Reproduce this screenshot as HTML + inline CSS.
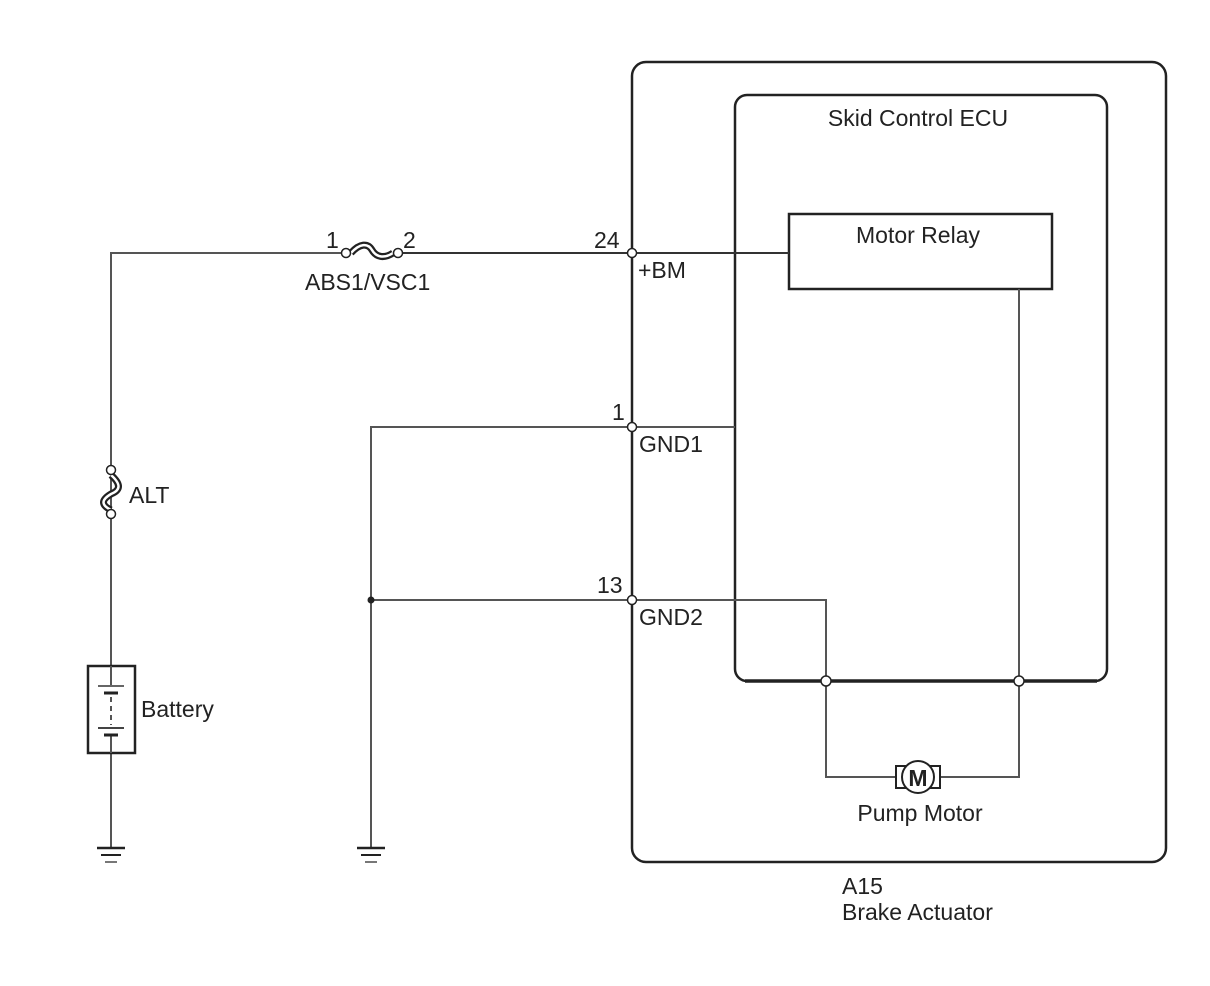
<!DOCTYPE html>
<html><head><meta charset="utf-8"><style>
html,body{margin:0;padding:0;background:#fff;}
svg{display:block;}
text{font-family:"Liberation Sans",sans-serif;font-size:23px;fill:#222;}
</style></head><body>
<svg width="1210" height="986" viewBox="0 0 1210 986" xmlns="http://www.w3.org/2000/svg">
<g fill="none" stroke="#333">
<rect x="632" y="62" width="534" height="800" rx="14" stroke-width="2.5" stroke="#222"/>
<rect x="735" y="95" width="372" height="586" rx="12" stroke-width="2.5" stroke="#222"/>
<line x1="745" y1="681" x2="1097" y2="681" stroke-width="3.5" stroke="#222"/>
<rect x="789" y="214" width="263" height="75" stroke-width="2.5" stroke="#222"/>
<polyline points="111,848 111,253 346,253" stroke-width="2" stroke="#555"/>
<line x1="398" y1="253" x2="789" y2="253" stroke-width="2" stroke="#333"/>
<path d="M351,253 C360,243 368,243 372,250 C376,257 384,259 393,253" stroke-width="7" stroke="#222"/>
<path d="M351,253 C360,243 368,243 372,250 C376,257 384,259 393,253" stroke-width="2.5" stroke="#fff"/>
<path d="M111,475 C121,484 121,490 111,494 C101,500 101,505 111,510" stroke-width="7" stroke="#222"/>
<path d="M111,475 C121,484 121,490 111,494 C101,500 101,505 111,510" stroke-width="2.5" stroke="#fff"/>
<rect x="88" y="666" width="47" height="87" stroke-width="2.5" stroke="#222" fill="#fff"/>
<line x1="111" y1="666" x2="111" y2="686" stroke-width="2" stroke="#555"/>
<line x1="111" y1="734" x2="111" y2="753" stroke-width="2" stroke="#555"/>
<line x1="98" y1="686" x2="124" y2="686" stroke-width="2" stroke="#666"/>
<line x1="104" y1="693" x2="118" y2="693" stroke-width="3" stroke="#222"/>
<line x1="111" y1="697" x2="111" y2="725" stroke-width="2" stroke="#555" stroke-dasharray="5,4"/>
<line x1="98" y1="728" x2="124" y2="728" stroke-width="2" stroke="#444"/>
<line x1="104" y1="735" x2="118" y2="735" stroke-width="3" stroke="#222"/>
<polyline points="735,427 371,427 371,848" stroke-width="2" stroke="#555"/>
<polyline points="371,600 826,600 826,777 900,777" stroke-width="2" stroke="#555"/>
<polyline points="1019,289 1019,777 937,777" stroke-width="2" stroke="#555"/>
<g stroke="#222">
<line x1="97" y1="848" x2="125" y2="848" stroke-width="2.5"/>
<line x1="101" y1="855" x2="121" y2="855" stroke-width="2"/>
<line x1="105" y1="862" x2="117" y2="862" stroke-width="2" stroke="#777"/>
<line x1="357" y1="848" x2="385" y2="848" stroke-width="2.5"/>
<line x1="361" y1="855" x2="381" y2="855" stroke-width="2"/>
<line x1="365" y1="862" x2="377" y2="862" stroke-width="2" stroke="#777"/>
</g>
<rect x="896" y="766" width="44" height="22" stroke-width="2" stroke="#222" fill="#fff"/>
<circle cx="918" cy="777" r="16" stroke-width="2" stroke="#222" fill="#fff"/>
<g stroke="#222" stroke-width="1.5" fill="#fff">
<circle cx="346" cy="253" r="4.5"/><circle cx="398" cy="253" r="4.5"/>
<circle cx="111" cy="470" r="4.5"/><circle cx="111" cy="514" r="4.5"/>
<circle cx="632" cy="253" r="4.5"/><circle cx="632" cy="427" r="4.5"/><circle cx="632" cy="600" r="4.5"/>
<circle cx="826" cy="681" r="5"/><circle cx="1019" cy="681" r="5"/>
</g>
<circle cx="371" cy="600" r="3.5" fill="#222" stroke="none"/>
</g>
<text x="918" y="786" text-anchor="middle" font-weight="bold" style="font-size:23px">M</text>
<text x="918" y="126" text-anchor="middle">Skid Control ECU</text>
<text x="918" y="243" text-anchor="middle">Motor Relay</text>
<text x="326" y="248">1</text>
<text x="403" y="248">2</text>
<text x="594" y="248">24</text>
<text x="305" y="290">ABS1/VSC1</text>
<text x="638" y="278">+BM</text>
<text x="612" y="420">1</text>
<text x="639" y="452">GND1</text>
<text x="597" y="593">13</text>
<text x="639" y="625">GND2</text>
<text x="129" y="503">ALT</text>
<text x="141" y="717">Battery</text>
<text x="920" y="821" text-anchor="middle">Pump Motor</text>
<text x="842" y="894">A15</text>
<text x="842" y="920">Brake Actuator</text>
</svg>
</body></html>
